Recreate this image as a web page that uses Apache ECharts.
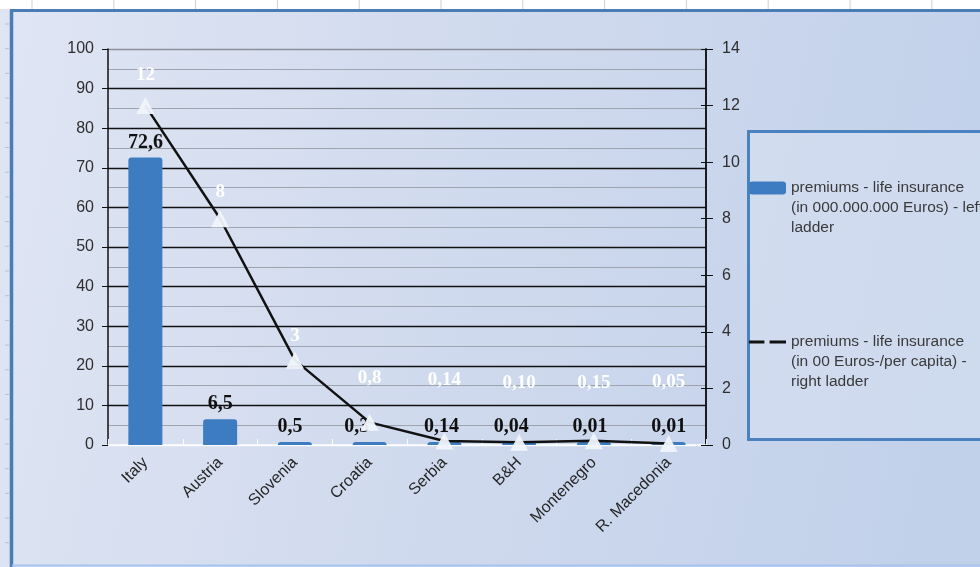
<!DOCTYPE html>
<html>
<head>
<meta charset="utf-8">
<script src="https://cdn.jsdelivr.net/npm/echarts@6/dist/echarts.min.js"></script>
<style>
  html, body { margin: 0; padding: 0; background: #fff; }
  #chart { width: 980px; height: 567px; }
</style>
</head>
<body>
<div id="chart"></div>
<script>
// Countries on the category axis
const countries = ['Italy', 'Austria', 'Slovenia', 'Croatia', 'Serbia', 'B&H', 'Montenegro', 'R. Macedonia'];

// Life insurance premiums, in 000.000.000 Euros (left ladder)
const premiumsTotal = [72.6, 6.5, 0.5, 0.3, 0.14, 0.04, 0.01, 0.01];

// Life insurance premiums, in 00 Euros per capita (right ladder)
const premiumsPerCapita = [12, 8, 3, 0.8, 0.14, 0.10, 0.15, 0.05];
// decimals shown in the per-capita labels
const perCapitaDigits = [0, 0, 0, 1, 2, 2, 2, 2];

const seriesNames = [
  'premiums - life insurance\n(in 000.000.000 Euros) - left\nladder',
  'premiums - life insurance\n(in 00 Euros-/per capita) -\nright ladder'
];

// label placement tweaks so value labels clear the markers
const perCapitaLabelLift = [12, 9, 6, 26, 43, 41, 40, 43];
const totalLabelShift = [0, 0, -5, -13, -3, -8, -4, 0];

const comma = s => String(s).replace('.', ',');
const serif = 'Liberation Serif, Times New Roman, serif';
const sans = 'Liberation Sans, Arial, sans-serif';

const chart = echarts.init(document.getElementById('chart'), null, { renderer: 'canvas' });

// split line colours for 0,10,...,100 on the left ladder
const majorLineColors = ['rgba(255,255,255,0.8)'];
for (let i = 1; i < 10; i++) majorLineColors.push('#111');
majorLineColors.push('#8a8f99');

// faint page-table rules in the white strip above the frame, and ruler marks at the left edge
const decorations = [];
for (let x = 32; x < 980; x += 81.8) {
  decorations.push({ type: 'line', shape: { x1: x, y1: 0, x2: x, y2: 9 }, style: { stroke: '#cfcfcf', lineWidth: 1 }, z: 0 });
}
for (let y = 24; y < 567; y += 24.7) {
  decorations.push({ type: 'line', shape: { x1: 5, y1: y, x2: 9, y2: y }, style: { stroke: '#b9c0cc', lineWidth: 1 }, z: 0 });
}

const option = {
  backgroundColor: {
    type: 'linear', x: 0, y: 0, x2: 1, y2: 0.35,
    colorStops: [
      { offset: 0, color: '#dfe5f3' },
      { offset: 0.5, color: '#d0daee' },
      { offset: 1, color: '#c2d1ea' }
    ]
  },
  animation: false,
  textStyle: { fontFamily: sans },
  graphic: [
    { type: 'rect', shape: { x: 0, y: 0, width: 980, height: 9 }, style: { fill: '#ffffff' }, z: 0 },
    ...decorations,
    { type: 'line', shape: { x1: 10, y1: 10.5, x2: 980, y2: 10.5 }, style: { stroke: '#4a7db5', lineWidth: 3 }, z: 1 },
    { type: 'line', shape: { x1: 11.5, y1: 10, x2: 11.5, y2: 567 }, style: { stroke: '#4a7db5', lineWidth: 3.5 }, z: 1 },
    { type: 'line', shape: { x1: 12, y1: 565.5, x2: 980, y2: 565.5 }, style: { stroke: '#a8c3f0', lineWidth: 2 }, z: 1 },
    {
      type: 'rect',
      shape: { x: 748.5, y: 131.5, width: 260, height: 308 },
      style: { fill: 'rgba(222,229,243,0.45)', stroke: '#4a82c0', lineWidth: 3 },
      z: 1
    }
  ],
  legend: {
    orient: 'vertical',
    left: 744,
    top: 133,
    itemGap: 54,
    itemWidth: 37,
    itemHeight: 13,
    selectedMode: false,
    // two leading blank lines put the first text line level with the icon
    formatter: name => '\n\n' + name,
    textStyle: {
      fontFamily: sans,
      fontSize: 15.5,
      color: '#3a3a3a',
      lineHeight: 20
    },
    data: [
      { name: seriesNames[0], icon: 'roundRect', itemStyle: { color: '#3d7cc0' } },
      {
        name: seriesNames[1],
        icon: 'path://M0,0H15V3H0Z M20,0H36V3H20Z',
        itemStyle: { color: '#111' }
      }
    ]
  },
  grid: { left: 108, right: 274, top: 49, bottom: 122, containLabel: false },
  xAxis: {
    type: 'category',
    data: countries,
    boundaryGap: true,
    axisLine: { show: true, lineStyle: { color: 'rgba(255,255,255,0.9)', width: 1.5 } },
    axisTick: { show: true, inside: true, length: 6, lineStyle: { color: 'rgba(255,255,255,0.9)' } },
    axisLabel: {
      rotate: 45,
      margin: 15,
      fontSize: 16,
      color: '#262626',
      fontFamily: sans
    },
    splitLine: { show: false }
  },
  yAxis: [
    {
      type: 'value',
      min: 0, max: 100, interval: 10,
      position: 'left',
      axisLine: { show: true, lineStyle: { color: '#111', width: 1.5 } },
      axisTick: { show: true, length: 6, lineStyle: { color: '#111' } },
      axisLabel: { fontSize: 16, color: '#2e2e2e', margin: 14 },
      splitLine: { show: true, lineStyle: { color: majorLineColors, width: 1.3 } },
      minorTick: { show: false, splitNumber: 2 },
      minorSplitLine: { show: true, lineStyle: { color: '#9ea4ae', width: 1 } }
    },
    {
      type: 'value',
      min: 0, max: 14, interval: 2,
      position: 'right',
      axisLine: { show: true, lineStyle: { color: '#111', width: 1.5 } },
      axisTick: { show: true, length: 7, lineStyle: { color: '#111' } },
      axisLabel: { fontSize: 16, color: '#2e2e2e', margin: 16 },
      splitLine: { show: false }
    },
    {
      // inner half of the right ladder's crossing ticks
      type: 'value',
      min: 0, max: 14, interval: 2,
      position: 'right',
      axisLine: { show: true, lineStyle: { color: '#111', width: 1.5 } },
      axisTick: { show: true, inside: true, length: 5, lineStyle: { color: '#111' } },
      axisLabel: { show: false },
      splitLine: { show: false }
    }
  ],
  series: [
    {
      name: seriesNames[0],
      type: 'bar',
      yAxisIndex: 0,
      data: premiumsTotal.map((v, i) => ({
        value: v,
        label: { offset: [totalLabelShift[i], 0] }
      })),
      barWidth: 34,
      barMinHeight: 3,
      itemStyle: { color: '#3d7cc0', borderRadius: [3, 3, 0, 0] },
      label: {
        show: true,
        position: 'top',
        distance: 5,
        formatter: p => comma(p.value),
        fontFamily: serif,
        fontWeight: 'bold',
        fontSize: 20,
        color: '#111'
      },
      z: 2
    },
    {
      name: seriesNames[1],
      type: 'line',
      yAxisIndex: 1,
      data: premiumsPerCapita.map((v, i) => ({
        value: v,
        label: { distance: perCapitaLabelLift[i] }
      })),
      symbol: 'triangle',
      symbolSize: [18, 17],
      lineStyle: { color: '#111', width: 2.5 },
      itemStyle: { color: 'rgba(240,244,251,0.95)' },
      label: {
        show: true,
        position: 'top',
        formatter: p => comma(p.value.toFixed(perCapitaDigits[p.dataIndex])),
        fontFamily: serif,
        fontWeight: 'bold',
        fontSize: 19,
        color: '#ffffff'
      },
      z: 3
    }
  ]
};

chart.setOption(option);
</script>
</body>
</html>
